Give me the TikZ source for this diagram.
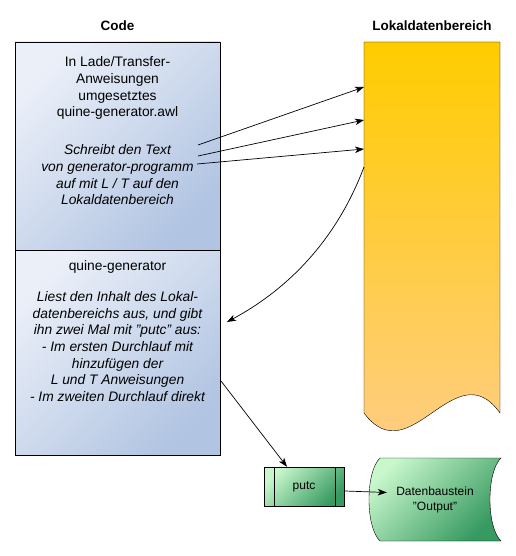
\documentclass[tikz,border=0pt]{standalone}
\usepackage{fontspec}
\setmainfont{Liberation Sans}
\usetikzlibrary{arrows.meta, positioning, calc}
\definecolor{codeLight}{HTML}{EAEFF8}
\definecolor{codeDark}{HTML}{B1C4E2}
\definecolor{lokTop}{HTML}{FFCC00}
\definecolor{lokBottom}{HTML}{FFCD8C}
\definecolor{greenLight}{HTML}{C8F7CC}
\definecolor{greenDark}{HTML}{379A60}
\tikzstyle{codebox} = [rectangle, minimum width=205pt, inner sep=0pt, draw=black, top color=codeLight, bottom color=codeDark, shading angle=45]
\tikzstyle{codetext} = [align=center, inner sep=0pt, anchor=north, font=\fontsize{13.8}{16.7}\selectfont]
\tikzstyle{heading} = [font=\fontsize{13.5}{16}\selectfont\bfseries]
\tikzstyle{process} = [rectangle, minimum width=80pt, minimum height=39pt, inner sep=0pt, draw=black, top color=greenLight, bottom color=greenDark, shading angle=45, font=\fontsize{12}{15}\selectfont]
\tikzstyle{arrow} = [->, >={Stealth[length=9pt, width=6.5pt, inset=2.5pt]}, line width=0.7pt]

\begin{document}
\begin{tikzpicture}[x=1pt, y=-1pt]
\useasboundingbox (0,0) rectangle (515,556);
\node (codetitle) [heading] at (117.5,26) {Code};
\node (loktitle) [heading] at (432,26) {Lokaldatenbereich};

% Code
\node (awl) [codebox, minimum height=208pt] at (117.5,146) {};
\node (gen) [codebox, minimum height=205pt, below=0pt of awl] {};
\node (awlname) [codetext] at (117.5,56.5) {In Lade/Transfer-\\Anweisungen\\umgesetztes\\quine-generator.awl};
\node (awlnote) [codetext, font=\fontsize{13.8}{16.7}\selectfont\itshape] at (117.5,144.5) {Schreibt den Text\\von generator-programm\\auf mit L / T auf den\\Lokaldatenbereich};
\node (genname) [codetext] at (117.5,260.6) {quine-generator};
\node (gennote) [codetext, font=\fontsize{13.8}{16.7}\selectfont\itshape] at (117.5,291.2) {Liest den Inhalt des Lokal-\\datenbereichs aus, und gibt\\ihn zwei Mal mit "putc" aus:\\- Im ersten Durchlauf mit\\hinzufügen der\\L und T Anweisungen\\- Im zweiten Durchlauf direkt};

% Lokaldatenbereich
\draw [top color=lokTop, bottom color=lokBottom] (364,42) -- (500,42) -- (500,413) .. controls (455,350) and (410,475) .. (364,413) -- cycle;
\coordinate (in1) at (364,87);
\coordinate (in2) at (364,120);
\coordinate (in3) at (364,149);
\coordinate (out1) at (364,167);

% Ausgabe
\node (putc) [process] at (304,486.5) {putc};
\draw ($(putc.north west)+(10,0)$) -- ($(putc.south west)+(10,0)$);
\draw ($(putc.north east)+(-9,0)$) -- ($(putc.south east)+(-9,0)$);
\draw [top color=greenLight, bottom color=greenDark, shading angle=45] (380,458) -- (501,458) .. controls (486.3,472) and (486.3,527) .. (501,541) -- (380,541) .. controls (365.3,527) and (365.3,472) .. cycle;
\node (data) [align=center, font=\fontsize{12}{15}\selectfont] at (435,500) {Datenbaustein\\"Output"};

\coordinate (w1) at (198,145);
\coordinate (w2) at (198,156);
\coordinate (w3) at (197,164);
\coordinate (back) at (227,322);
\coordinate (g1) at (221,381);

\draw [arrow] (w1) -- (in1);
\draw [arrow] (w2) -- (in2);
\draw [arrow] (w3) -- (in3);
\draw [arrow] (out1) .. controls (338,236) and (292,287) .. (back);
\draw [arrow] (g1) -- ($(putc.north)+(-17,0)$);
\draw [arrow] ($(putc.east)+(1,4.5)$) -- ($(data.west)+(-6,-7.5)$);
\end{tikzpicture}
\end{document}
